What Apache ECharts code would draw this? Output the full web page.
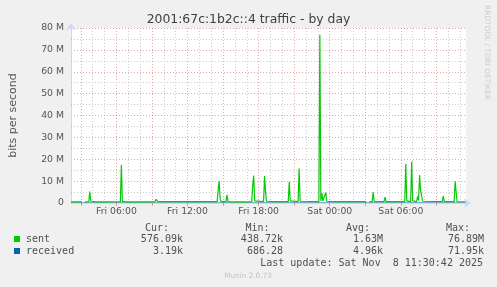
<!DOCTYPE html>
<html>
<head>
<meta charset="utf-8">
<script src="https://cdn.jsdelivr.net/npm/echarts@6/dist/echarts.min.js"></script>
<style>
html,body{margin:0;padding:0;background:#f0f0f0;}
#c{width:497px;height:287px;}
</style>
</head>
<body>
<div id="c"></div>
<script>
// Time in minutes since Fri 00:00; values in Mbit/s
const sentTimes = [130,185,190,200,205,210,220,225,230,235,255,260,265,300,305,310,380,385,390,410,415,420,480,485,490,530,535,540,555,560,565,570,680,685,690,710,715,720,870,875,880,885,890,915,920,925,970,975,980,1015,1020,1025,1045,1050,1055,1060,1105,1110,1115,1120,1125,1160,1165,1170,1230,1235,1240,1280,1285,1290,1385,1390,1395,1400,1405,1415,1420,1425,1430,1460,1465,1470,1500,1505,1510,1625,1630,1640,1655,1660,1665,1715,1720,1725,1785,1790,1795,1820,1825,1830,1850,1855,1860,1880,1885,1890,1895,1900,1905,1910,1915,2010,2015,2020,2070,2075,2080,2085,2130];
const sentValues = [0.55,0.55,null,0.55,1.0,0.55,0.6,5.2,0.8,0.55,0.55,0.9,0.55,0.55,0.9,0.55,0.6,17.4,0.7,0.55,0.9,0.55,0.55,0.8,0.55,0.55,0.8,0.55,0.6,1.7,1.2,0.6,0.6,1.2,0.6,0.6,0.8,0.6,0.6,6.0,10.0,2.0,0.6,0.6,3.7,0.6,0.5,0.9,0.5,0.5,1.0,0.5,0.6,8.0,12.5,1.0,0.6,12.3,5.0,0.8,0.6,0.6,1.4,0.6,0.6,9.7,1.0,0.6,15.8,0.8,0.6,76.89,1.0,4.5,1.0,1.0,4.8,0.8,0.6,0.6,0.9,0.6,0.6,0.8,0.6,0.6,null,0.6,0.6,4.9,0.7,0.6,2.7,0.6,0.6,0.8,0.6,0.6,17.8,1.0,0.6,19.0,1.0,0.6,3.0,1.2,12.8,6.0,5.5,0.8,0.6,0.6,3.2,0.6,0.6,9.9,5.0,0.6,0.58];
const receivedTimes = [130,1385,1390,1395,2130];
const receivedValues = [0.002,0.002,0.072,0.002,0.0032];

const xTickValues = [360,720,1080,1440,1800];
const xTickLabels = ['Fri 06:00','Fri 12:00','Fri 18:00','Sat 00:00','Sat 06:00'];
const yTickLabels = ['0','10 M','20 M','30 M','40 M','50 M','60 M','70 M','80 M'];

const seriesNames = ['sent','received'];
const statHeaders = ['Cur:','Min:','Avg:','Max:'];
const sentStats = ['576.09k','438.72k','1.63M','76.89M'];
const receivedStats = ['3.19k','686.28','4.96k','71.95k'];
const titleText = '2001:67c:1b2c::4 traffic - by day';
const yAxisTitle = 'bits per second';
const lastUpdate = 'Last update: Sat Nov  8 11:30:42 2025';
const footer = 'Munin 2.0.73';
const sideText = 'RRDTOOL / TOBI OETIKER';

const X_MIN = 130, X_MAX = 2130;
const GREEN = '#00cc00', BLUE = '#0066b3';
const AXIS_COLOR = '#cfd6f8';
const MAJOR = 'rgba(200,80,80,0.5)';
const MINOR = 'rgba(150,150,150,0.5)';

const pair = (t, v) => t.map((x, i) => [x, v[i]]);

// Vertical grid lines at every hour, major every 3 hours
const gridLines = [];
for (let m = 180; m < X_MAX; m += 60) {
  const major = m % 180 === 0;
  gridLines.push({xAxis: m, lineStyle: {color: major ? MAJOR : MINOR, type: [1, 2], width: 1}});
}
// Horizontal minor grid lines every 5 M (between the 10 M majors)
const hMinor = [];
for (let v = 5; v < 80; v += 10) {
  hMinor.push({yAxis: v, lineStyle: {color: MINOR, type: [1, 2], width: 1}});
}
const majorTicks = [];
for (let m = 180; m < X_MAX; m += 180) majorTicks.push(m);

const mono = 'DejaVu Sans Mono';
const txtColor = '#505050';
const graphics = [
  {type:'text', x: 248.5, y: 20, style:{text: titleText, font: '12.4px "DejaVu Sans"', fill:'#404040', textAlign:'center', textVerticalAlign:'middle'}},
  {type:'text', x: 487, y: 5, rotation: -Math.PI/2, style:{text: sideText, font: '7.4px "DejaVu Sans"', fill:'#cccccc', textAlign:'left', textVerticalAlign:'middle'}},
  {type:'rect', shape:{x:14, y:236, width:6, height:6}, style:{fill: GREEN}},
  {type:'rect', shape:{x:14, y:248, width:6, height:6}, style:{fill: BLUE}},
  {type:'text', x: 26, y: 239.3, style:{text: seriesNames[0], font: '10px "'+mono+'"', fill: txtColor, textVerticalAlign:'middle'}},
  {type:'text', x: 26, y: 251, style:{text: seriesNames[1], font: '10px "'+mono+'"', fill: txtColor, textVerticalAlign:'middle'}},
  {type:'text', x: 483, y: 263.7, style:{text: lastUpdate, font: '10px "'+mono+'"', fill: txtColor, textAlign:'right', textVerticalAlign:'middle'}},
  {type:'text', x: 248, y: 276, style:{text: footer, font: '7.3px "DejaVu Sans"', fill:'#c4c4c4', textAlign:'center', textVerticalAlign:'middle'}}
];
const colRight = [183, 283, 383, 484];
const headLeft = [145, 245.5, 346, 446];
statHeaders.forEach((h, i) => {
  graphics.push({type:'text', x: headLeft[i], y: 228.3, style:{text: h, font: '10px "'+mono+'"', fill: txtColor, textVerticalAlign:'middle'}});
  graphics.push({type:'text', x: colRight[i], y: 239.3, style:{text: sentStats[i], font: '10px "'+mono+'"', fill: txtColor, textAlign:'right', textVerticalAlign:'middle'}});
  graphics.push({type:'text', x: colRight[i], y: 251, style:{text: receivedStats[i], font: '10px "'+mono+'"', fill: txtColor, textAlign:'right', textVerticalAlign:'middle'}});
});

const chart = echarts.init(document.getElementById('c'), null, {renderer:'canvas'});
chart.setOption({
  backgroundColor: '#f0f0f0',
  animation: false,
  textStyle: {fontFamily: 'DejaVu Sans'},
  grid: {left: 67, right: 31, top: 28, bottom: 84, show: true, backgroundColor: '#ffffff', borderWidth: 0},
  xAxis: {
    type: 'value', min: X_MIN, max: X_MAX, z: 4,
    axisLine: {show: true, lineStyle: {color: AXIS_COLOR, width: 1}, symbol: ['none','arrow'], symbolSize: [7, 7], symbolOffset: [0, 5]},
    axisTick: {show: true, customValues: majorTicks, length: 3, lineStyle: {color: MAJOR}},
    axisLabel: {customValues: xTickValues, formatter: v => xTickLabels[xTickValues.indexOf(v)], color: '#555', fontSize: 9.3, margin: 4},
    splitLine: {show: false}
  },
  yAxis: {
    type: 'value', min: 0, max: 80, interval: 10,
    name: yAxisTitle, nameLocation: 'middle', nameRotate: 90, nameGap: 52,
    nameTextStyle: {color: '#555', fontSize: 11},
    axisLine: {show: true, lineStyle: {color: AXIS_COLOR, width: 1}, symbol: ['none','arrow'], symbolSize: [7, 7], symbolOffset: [0, 5]},
    axisTick: {show: false},
    axisLabel: {formatter: v => yTickLabels[Math.round(v / 10)], color: '#555', fontSize: 9.3, margin: 7},
    splitLine: {show: true, lineStyle: {color: MAJOR, type: [1, 2]}}
  },
  series: [
    {type: 'line', name: 'grid', data: [], z: 1, silent: true,
     markLine: {silent: true, symbol: 'none', label: {show: false}, animation: false, data: gridLines.concat(hMinor)}},
    {type: 'line', name: seriesNames[1], data: pair(receivedTimes, receivedValues), z: 2, showSymbol: false, connectNulls: false,
     lineStyle: {color: BLUE, width: 1}, itemStyle: {color: BLUE}},
    {type: 'line', name: seriesNames[0], data: pair(sentTimes, sentValues), z: 3, showSymbol: false, connectNulls: false,
     lineStyle: {color: GREEN, width: 1.2}, itemStyle: {color: GREEN}}
  ],
  graphic: graphics
});
</script>
</body>
</html>
